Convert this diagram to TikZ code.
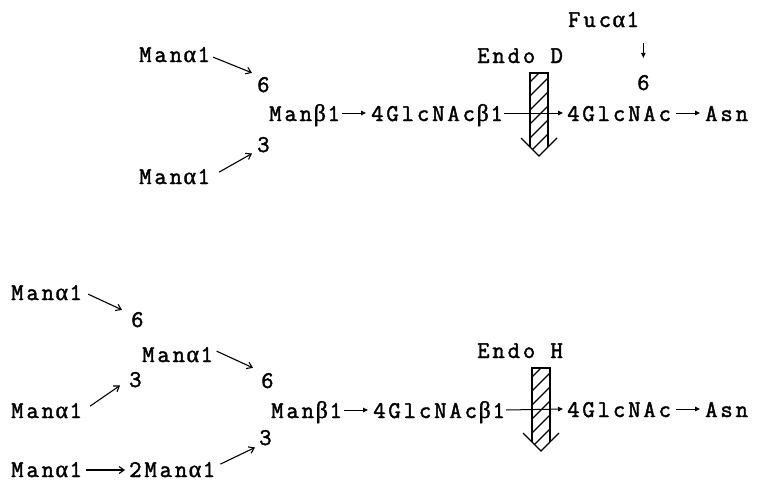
\documentclass[tikz,border=0pt]{standalone}
\usepackage{fontspec}
\newfontfamily\glyfont{Latin Modern Mono}[LetterSpace=12,FakeBold=1.8]
\newfontfamily\grkfont{Liberation Serif}[FakeBold=1.5]
\usetikzlibrary{arrows.meta}

% one monospaced cell for a Greek letter
\newlength\cellw
\setlength\cellw{15.5pt}
\newcommand\gk[1]{\makebox[\cellw][c]{\grkfont #1}}
\newcommand\al{\gk{α}}
\newcommand\be{\gk{β}}

\tikzset{
  lbl/.style={font=\glyfont\fontsize{24}{24}\selectfont, inner sep=0pt, anchor=base west},
  link/.style={line width=1.1pt, -{Straight Barb[length=5pt,width=7pt]}},
  bond/.style={line width=1pt, -{Triangle[length=5pt,width=4.5pt]}},
  pics/cleave/.style={code={
    \begin{scope}
      \clip (-9,0) -- (9,0) -- (9,74) -- (0,83) -- (-9,74) -- cycle;
      \foreach \k in {0,...,7}
        \draw[line width=1.2pt] (-12,14*\k+12) -- (12,14*\k-12);
    \end{scope}
    \draw[line width=1.3pt] (-9,74) -- (-9,0) -- (9,0) -- (9,74);
    \draw[line width=1.3pt] (-18,65) -- (0,83) -- (18,65);
  }},
}

\begin{document}
\begin{tikzpicture}[x=1pt,y=-1pt]
\useasboundingbox (0,0) rectangle (758,482);

% ---------- Endo D substrate ----------
\node[lbl] (fuc)   at (568,27)  {Fuc\al1};
\node[lbl] (fuc6)  at (637,90)  {6};
\node[lbl] (endoD) at (477,63)  {Endo D};
\node[lbl] (tmU)   at (139,62)  {Man\al1};
\node[lbl] (t6)    at (257,92)  {6};
\node[lbl] (tbeta) at (269,121) {Man\be1};
\node[lbl] (tg1)   at (371,121) {4GlcNAc\be1};
\node[lbl] (tg2)   at (567,121) {4GlcNAc};
\node[lbl] (tasn)  at (705,121) {Asn};
\node[lbl] (t3)    at (257,152) {3};
\node[lbl] (tmL)   at (139,184) {Man\al1};

\pic at (539,73) {cleave};

\draw[link] ([shift={(3,2.5)}]tmU.east) -- ([shift={(-5,-4)}]t6.north west);
\draw[link] ([shift={(9,-4.5)}]tmL.east) -- ([shift={(-5,1)}]t3.south west);
\draw[bond] ([shift={(2,-8)}]tbeta.base east) -- ([shift={(-5,-8)}]tg1.base west);
\draw[bond] ([shift={(1,-8)}]tg1.base east) -- ([shift={(-4,-8)}]tg2.base west);
\draw[bond] ([shift={(5,-8)}]tg2.base east) -- ([shift={(-5,-8)}]tasn.base west);
\draw[bond, shorten <=16pt, shorten >=17pt] (fuc.south -| fuc6.north) -- (fuc6.north);

% ---------- Endo H substrate ----------
\node[lbl] (b1)    at (11,300)  {Man\al1};
\node[lbl] (b6a)   at (131,327) {6};
\node[lbl] (b2)    at (142,362) {Man\al1};
\node[lbl] (b3a)   at (129,387) {3};
\node[lbl] (b6b)   at (261,388) {6};
\node[lbl] (b4)    at (11,418)  {Man\al1};
\node[lbl] (bbeta) at (271,418) {Man\be1};
\node[lbl] (bg1)   at (373,418) {4GlcNAc\be1};
\node[lbl] (bg2)   at (567,417) {4GlcNAc};
\node[lbl] (basn)  at (705,417) {Asn};
\node[lbl] (b3b)   at (259,445) {3};
\node[lbl] (b5)    at (11,477)  {Man\al1};
\node[lbl] (b5b)   at (129,477) {2Man\al1};
\node[lbl] (endoH) at (477,358) {Endo H};

\pic at (541,368) {cleave};

\draw[link] ([shift={(6,1.5)}]b1.east) -- ([shift={(-9,-2)}]b6a.north west);
\draw[link] ([shift={(8,-4.5)}]b4.east) -- ([shift={(-9,-2)}]b3a.south west);
\draw[link] ([shift={(3.5,-3.5)}]b2.east) -- ([shift={(-8,-5)}]b6b.north west);
\draw[link] ([shift={(5,-5.5)}]b5b.east) -- ([shift={(-4,2)}]b3b.south west);
\draw[link] ([shift={(4,-7)}]b5.base east) -- ([shift={(-4,-7)}]b5b.base west);
\draw[bond] ([shift={(2,-8)}]bbeta.base east) -- ([shift={(-5,-8)}]bg1.base west);
\draw[bond] ([shift={(1,-8)}]bg1.base east) -- ([shift={(-4,-8)}]bg2.base west);
\draw[bond] ([shift={(5,-8)}]bg2.base east) -- ([shift={(-5,-8)}]basn.base west);
\end{tikzpicture}
\end{document}
